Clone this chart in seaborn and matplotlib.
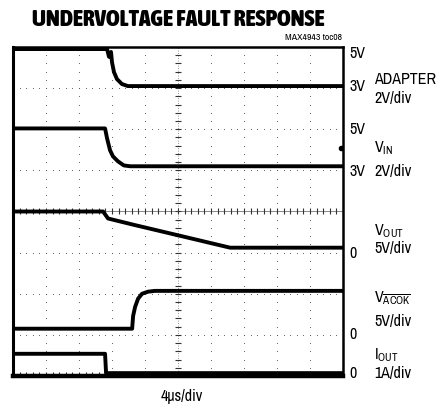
import numpy as np
import pandas as pd
import matplotlib
matplotlib.use('Agg')
import matplotlib.pyplot as plt
import seaborn as sns
from matplotlib import font_manager

# time axis in divisions (4us/div), vertical axis in screen divisions (8 div)
adapter_t = [0, 2.85, 2.91, 2.97, 3.0, 3.06, 3.15, 3.3, 3.48, 10]
adapter_v = [7.95, 7.95, 7.76, 7.88, 7.63, 7.39, 7.22, 7.1, 7.05, 7.05]

vin_t = [0, 2.79, 2.85, 2.94, 3.03, 3.18, 3.36, 3.55, 10]
vin_v = [6.02, 6.02, 5.78, 5.49, 5.34, 5.22, 5.12, 5.1, 5.1]

vout_t = [0, 2.73, 2.88, 3.64, 5.06, 6.58, 10]
vout_v = [4.0, 4.0, 3.83, 3.68, 3.41, 3.12, 3.12]

acok_t = [0, 3.61, 3.64, 3.7, 3.79, 3.91, 4.09, 4.3, 10]
acok_v = [1.15, 1.15, 1.46, 1.68, 1.88, 2.0, 2.05, 2.07, 2.07]

iout_t = [0, 2.79, 2.82, 10]
iout_v = [0.54, 0.54, 0.07, 0.07]

trigger_level = 5.55

sns.set_style('white')
names = {f.name for f in font_manager.fontManager.ttflist}
narrow = next((n for n in ['Archivo Narrow', 'Liberation Sans Narrow', 'Asap Condensed']
               if n in names), 'DejaVu Sans')
title_font = next((n for n in ['Asap Condensed', 'Archivo Narrow'] if n in names), 'DejaVu Sans')
plt.rcParams['font.family'] = [narrow, 'DejaVu Sans']
plt.rcParams['mathtext.fontset'] = 'custom'
plt.rcParams['mathtext.rm'] = narrow
plt.rcParams['text.color'] = 'black'

fig = plt.figure(figsize=(4.43, 4.08), dpi=100)
ax = fig.add_axes([13/443, 1 - 376/408, 330/443, 329/408])

# scope graticule
gx, gy = np.meshgrid(np.arange(0, 10.01, 0.2), np.arange(0, 9))
ax.scatter(gx.ravel(), gy.ravel(), s=0.6, color='#555555', linewidths=0, zorder=1)
gx, gy = np.meshgrid(np.arange(0, 11), np.arange(0, 8.01, 0.2))
ax.scatter(gx.ravel(), gy.ravel(), s=0.6, color='#555555', linewidths=0, zorder=1)
ax.axhline(4, color='#777777', lw=0.6, zorder=1)
ax.axvline(5, color='#777777', lw=0.6, ls=(0, (1, 2)), zorder=1)
minor = np.arange(0, 10.01, 0.2)
ax.plot(minor, np.full_like(minor, 4), ls='none', marker='|', ms=4, mew=0.8, color='#333333', zorder=1)
ax.plot(minor, np.full_like(minor, 0.05), ls='none', marker='|', ms=3, mew=0.8, color='#333333', zorder=1)
vminor = np.arange(0, 8.01, 0.2)
ax.plot(np.full_like(vminor, 5), vminor, ls='none', marker='_', ms=4, mew=0.8, color='#333333', zorder=1)

traces = [(adapter_t, adapter_v), (vin_t, vin_v), (vout_t, vout_v),
          (acok_t, acok_v), (iout_t, iout_v)]
for t, v in traces:
    df = pd.DataFrame({'t': t, 'v': v})
    sns.lineplot(data=df, x='t', y='v', ax=ax, color='black', lw=2.8,
                 sort=False, estimator=None, zorder=3)
ax.plot([9.93], [trigger_level], marker='o', ms=3, color='black', zorder=4)

ax.set_xlim(0, 10)
ax.set_ylim(0, 8)
ax.set_xticks([])
ax.set_yticks([])
ax.set_xlabel('')
ax.set_ylabel('')
for side, w in [('left', 2.2), ('right', 1.8), ('top', 1.8), ('bottom', 3.2)]:
    ax.spines[side].set_visible(True)
    ax.spines[side].set_color('black')
    ax.spines[side].set_linewidth(w)

fs = 11.5
xl = 10.2
xr = 10.95
lab = dict(fontsize=fs, va='center', ha='left', clip_on=False, color='black')
ax.text(xl, 7.85, '5V', **lab)
ax.text(xl, 7.05, '3V', **lab)
ax.text(xr, 7.2, 'ADAPTER', **lab)
ax.text(xr, 6.75, '2V/div', **lab)
ax.text(xl, 6.0, '5V', **lab)
ax.text(xr, 5.55, r'V$_\mathregular{IN}$', **lab)
ax.text(xl, 4.98, '3V', **lab)
ax.text(xr, 4.98, '2V/div', **lab)
ax.text(xr, 3.52, r'V$_\mathregular{OUT}$', **lab)
ax.text(xr, 3.1, '5V/div', **lab)
ax.text(xl, 2.97, '0', **lab)
ax.text(xr, 1.88, r'V$_{\overline{\mathregular{ACOK}}}$', **lab)
ax.text(xr, 1.33, '5V/div', **lab)
ax.text(xl, 1.0, '0', **lab)
ax.text(xr, 0.5, r'I$_\mathregular{OUT}$', **lab)
ax.text(xr, 0.07, '1A/div', **lab)
ax.text(xl, 0.05, '0', **lab)

fig.text(182/443, 1 - 396/408, '4\u03bcs/div', fontsize=fs, ha='center', va='center')
fig.text(178/443, 1 - 20/408, 'UNDERVOLTAGE FAULT RESPONSE', fontsize=16.8,
         fontweight=900, family=[title_font, 'DejaVu Sans'], ha='center', va='center')
fig.text(342/443, 1 - 37/408, 'MAX4943 toc08', fontsize=7, ha='right', va='center')

fig.savefig('out.png', dpi=100)
